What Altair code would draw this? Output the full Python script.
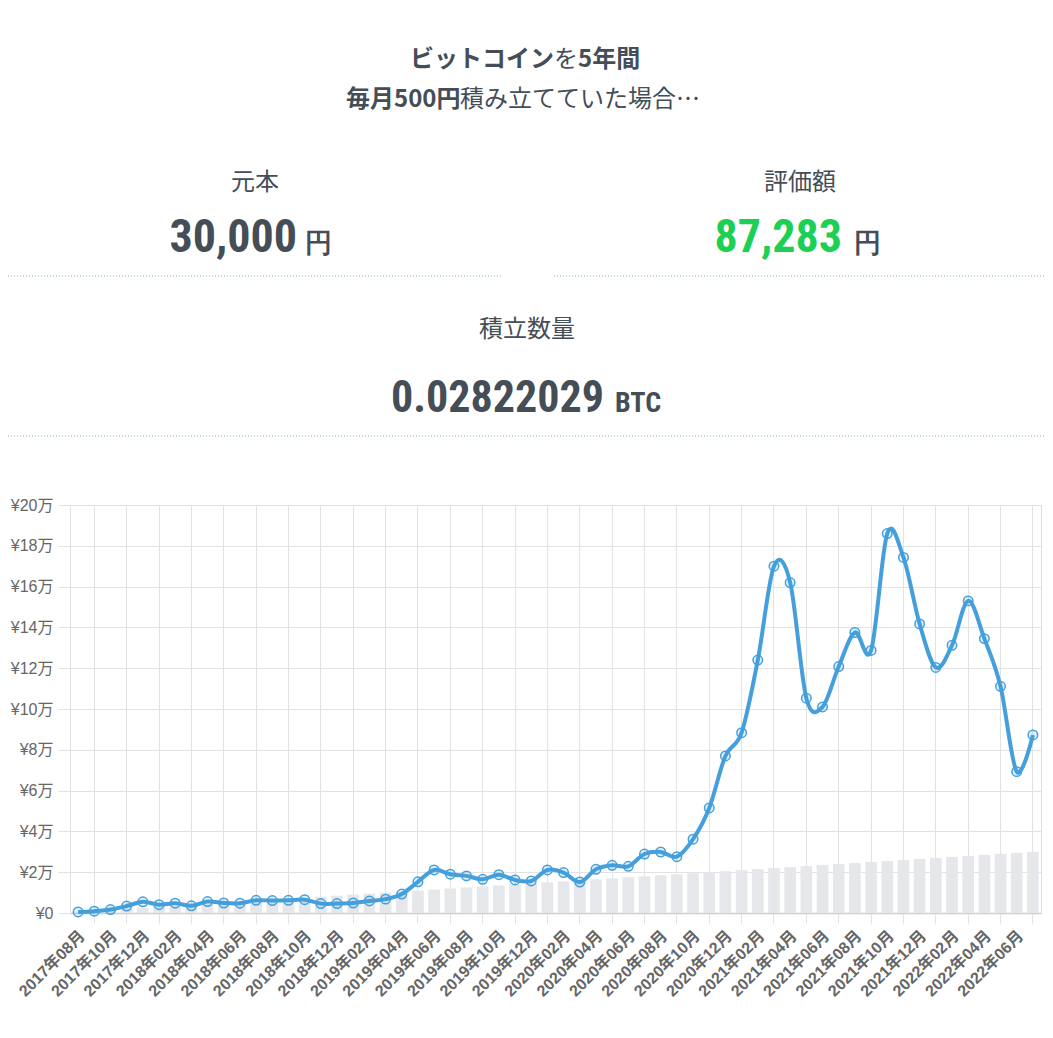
import json
import altair as alt
import pandas as pd

# ---------------- data ----------------
months = [
    "2017年08月", "2017年09月", "2017年10月", "2017年11月", "2017年12月",
    "2018年01月", "2018年02月", "2018年03月", "2018年04月", "2018年05月", "2018年06月",
    "2018年07月", "2018年08月", "2018年09月", "2018年10月", "2018年11月", "2018年12月",
    "2019年01月", "2019年02月", "2019年03月", "2019年04月", "2019年05月", "2019年06月",
    "2019年07月", "2019年08月", "2019年09月", "2019年10月", "2019年11月", "2019年12月",
    "2020年01月", "2020年02月", "2020年03月", "2020年04月", "2020年05月", "2020年06月",
    "2020年07月", "2020年08月", "2020年09月", "2020年10月", "2020年11月", "2020年12月",
    "2021年01月", "2021年02月", "2021年03月", "2021年04月", "2021年05月", "2021年06月",
    "2021年07月", "2021年08月", "2021年09月", "2021年10月", "2021年11月", "2021年12月",
    "2022年01月", "2022年02月", "2022年03月", "2022年04月", "2022年05月", "2022年06月",
    "2022年07月",
]

# cumulative principal (元本), yen
principal = [
    500, 1000, 1500, 2000, 2500, 3000, 3500, 4000, 4500, 5000,
    5500, 6000, 6500, 7000, 7500, 8000, 8500, 9000, 9500, 10000,
    10500, 11000, 11500, 12000, 12500, 13000, 13500, 14000, 14500, 15000,
    15500, 16000, 16500, 17000, 17500, 18000, 18500, 19000, 19500, 20000,
    20500, 21000, 21500, 22000, 22500, 23000, 23500, 24000, 24500, 25000,
    25500, 26000, 26500, 27000, 27500, 28000, 28500, 29000, 29500, 30000,
]

# valuation (評価額), yen
valuation = [
    500, 900, 1700, 3400, 5500, 4100, 4800, 3500, 5600, 4900,
    4800, 6200, 6100, 6200, 6500, 4600, 4600, 4900, 5900, 6800,
    9300, 15300, 21100, 19000, 18200, 16500, 18800, 16200, 15700, 21100,
    19800, 15200, 21400, 23400, 22900, 28900, 29900, 27600, 36200, 51500,
    77000, 88400, 124000, 170000, 162000, 105300, 101000, 120800, 137500, 128700,
    186000, 174300, 141700, 120400, 131200, 153000, 134500, 111100, 69300, 87283,
]

y_ticks = [0, 20000, 40000, 60000, 80000, 100000, 120000, 140000, 160000, 180000, 200000]

title_line1 = ["ビットコイン", "を", "5年間"]
title_line2 = ["毎月500円", "積み立てていた場合…"]
box_labels = ["元本", "評価額", "積立数量"]
box_values = ["30,000", "87,283", "0.02822029"]
box_units = ["円", "円", "BTC"]

df = pd.DataFrame({"month": months, "principal": principal, "value": valuation})

# ---------------- styles ----------------
TEXT = "#454d57"
GREEN = "#1ccf55"
BLUE = "#449fdc"
BAR = "#e6e7eb"
GRID = "#e2e2e2"
DOTS = "#7fb3d5"
JP = "Noto Sans CJK JP, Noto Sans, sans-serif"
NUM = "Roboto Condensed, Liberation Sans Narrow, DejaVu Sans Condensed, Roboto, sans-serif"
AX = "Liberation Sans, Noto Sans CJK JP, sans-serif"

W, H = 971, 408

months_js = json.dumps(months, ensure_ascii=False)
x_scale = alt.Scale(paddingInner=0.28, paddingOuter=0.14)
x_enc = alt.X(
    "month:N", sort=months, scale=x_scale, title=None,
    axis=alt.Axis(
        values=months[1::2],
        labelExpr=f"{months_js}[indexof({months_js}, datum.value) - 1]",
        labelOffset=-12, labelAngle=-45, labelAlign="right", labelBaseline="middle",
        labelPadding=10, labelFont=AX, labelFontSize=16, labelFontWeight="bold",
        labelColor="#666666", labelOverlap=False,
        grid=True, gridColor=GRID, tickColor=GRID, tickSize=10,
        domainColor="#cfcfcf", domainWidth=1.5,
    ),
)
y_enc_axis = alt.Axis(
    values=y_ticks,
    labelExpr="datum.value == 0 ? '¥0' : '¥' + (datum.value / 10000) + '万'",
    labelFont=AX, labelFontSize=16, labelColor="#666666", labelPadding=5,
    grid=True, gridColor=GRID, tickColor=GRID, tickSize=12, domainColor=GRID,
)
y_scale = alt.Scale(domain=[0, 200000], nice=False)

bars = alt.Chart(df).mark_bar(color=BAR).encode(
    x=x_enc,
    y=alt.Y("principal:Q", scale=y_scale, axis=y_enc_axis, title=None),
)
line = alt.Chart(df).mark_line(
    interpolate="cardinal", color=BLUE, strokeWidth=4
).encode(x=alt.X("month:N", sort=months), y=alt.Y("value:Q"))
points = alt.Chart(df).mark_point(
    shape="circle", size=90, filled=True, fill=BLUE, fillOpacity=0.15,
    stroke=BLUE, strokeWidth=1.5, opacity=1
).encode(x=alt.X("month:N", sort=months), y=alt.Y("value:Q"))


def txt(text, x, y, size, weight="normal", color=TEXT, align="left",
        baseline="middle", font=JP):
    return alt.Chart(pd.DataFrame({"t": [text]})).mark_text(
        align=align, baseline=baseline, fontSize=size, fontWeight=weight,
        color=color, font=font,
    ).encode(text="t:N", x=alt.value(x), y=alt.value(y))


def dotted(x1, x2, y):
    return alt.Chart(pd.DataFrame({"d": [0]})).mark_rule(
        color=DOTS, strokeWidth=1, strokeDash=[1, 2]
    ).encode(x=alt.value(x1), x2=alt.value(x2), y=alt.value(y))


# page coordinates -> plot coordinates: x - 70, y - 505
header = [
    txt(title_line1[0], 340, -445, 24, "bold"),
    txt(title_line1[1], 484, -445, 24, "normal"),
    txt(title_line1[2], 508, -445, 24, "bold"),
    txt(title_line2[0], 276, -405, 24, "bold"),
    txt(title_line2[1], 390, -405, 24, "normal"),
    txt(box_labels[0], 185, -322, 24, align="center"),
    txt(box_labels[1], 730, -322, 24, align="center"),
    txt(box_labels[2], 457, -175, 24, align="center"),
    txt(box_values[0], 227, -253, 46, "bold", align="right", baseline="alphabetic", font=NUM),
    txt(box_units[0], 235, -253, 27, "bold", align="left", baseline="alphabetic", font=NUM),
    txt(box_values[1], 772, -253, 46, "bold", color=GREEN, align="right", baseline="alphabetic", font=NUM),
    txt(box_units[1], 784, -253, 27, "bold", align="left", baseline="alphabetic", font=NUM),
    txt(box_values[2], 534, -93, 44, "bold", align="right", baseline="alphabetic", font=NUM),
    txt(box_units[2], 545, -93, 28, "bold", align="left", baseline="alphabetic", font=NUM),
    dotted(-62, 431, -229),
    dotted(484, 975, -229),
    dotted(-62, 975, -69),
]

chart = alt.layer(bars, line, points, *header).properties(
    width=W, height=H,
    autosize=alt.AutoSizeParams(type="none"),
    padding={"left": 62, "top": 497, "right": 4, "bottom": 105},
).configure_view(strokeWidth=0).configure(background="white")

chart.save("out.html", embed_options={"renderer": "svg", "actions": False})
